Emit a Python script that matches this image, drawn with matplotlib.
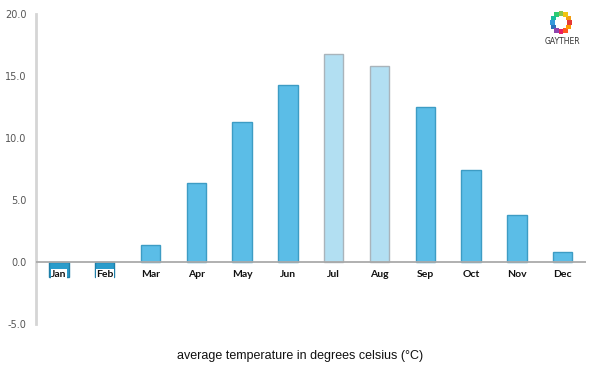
import numpy as np
import matplotlib.pyplot as plt

# monthly average temperature (deg C)
months = ["Jan", "Feb", "Mar", "Apr", "May", "Jun",
          "Jul", "Aug", "Sep", "Oct", "Nov", "Dec"]
temps = [-1.2, -1.2, 1.4, 6.4, 11.3, 14.3, 16.8, 15.8, 12.5, 7.4, 3.8, 0.8]
yticks = [-5, 0, 5, 10, 15, 20]

fig = plt.figure(figsize=(6, 3.75), dpi=100)
ax = fig.add_axes([0.06, 0.136, 0.916, 0.827])

x = np.arange(len(months))
face = []
edge = []
for m, t in zip(months, temps):
    if t < 0:
        face.append("#2b9ccb")
        edge.append("#1f7fa8")
    elif m in ("Jul", "Aug"):
        face.append("#b2dff2")
        edge.append("#a9b4bb")
    else:
        face.append("#5bbde7")
        edge.append("#3d9cc4")

ax.bar(x, temps, width=0.42, color=face, edgecolor=edge, linewidth=1.0, zorder=2)

ax.axhline(0, color="#aaaaaa", lw=1.3, zorder=3)

# month labels just under the zero line, white boxes
for i, m in enumerate(months):
    ax.text(i, -1.0, m, ha="center", va="center", fontsize=7.5, color="#111111",
            family="Lato", fontweight="bold", zorder=4,
            bbox=dict(facecolor="white", edgecolor="none", pad=0.3))

ax.set_xlim(-0.5, len(months) - 0.5)
ax.set_ylim(-5, 20)
ax.set_xticks([])
ax.set_yticks(yticks)
ax.set_yticklabels(["%.1f" % v for v in yticks], fontsize=7, color="#555555")
ax.tick_params(axis="y", length=0, pad=7)

for s in ["top", "right", "bottom"]:
    ax.spines[s].set_visible(False)
ax.spines["left"].set_color("#d5d5d5")
ax.spines["left"].set_linewidth(2)

fig.text(0.5, 0.052, "average temperature in degrees celsius (\u00b0C)",
         ha="center", va="center", fontsize=9, color="#111111",
         family="Liberation Sans")

# small logo in the top right corner
logo_cols = ["#e53935", "#f39c12", "#f1c40f", "#8bc34a", "#2ecc71",
             "#1abc9c", "#3498db", "#2c6fbb", "#8e44ad", "#e91e63",
             "#ff5722", "#ff9800"]
lax = fig.add_axes([0.91, 0.9, 0.05, 0.08])
lax.set_xlim(-1.7, 1.7)
lax.set_ylim(-1.7, 1.7)
lax.set_aspect("equal")
lax.axis("off")
ang = np.linspace(0, 2 * np.pi, len(logo_cols), endpoint=False)
lax.scatter(np.cos(ang), np.sin(ang), s=12, c=logo_cols, marker="s", linewidths=0)
fig.text(0.937, 0.888, "GAYTHER", ha="center", va="center", fontsize=5.5,
         color="#333333")

fig.savefig("out.png", dpi=100)
